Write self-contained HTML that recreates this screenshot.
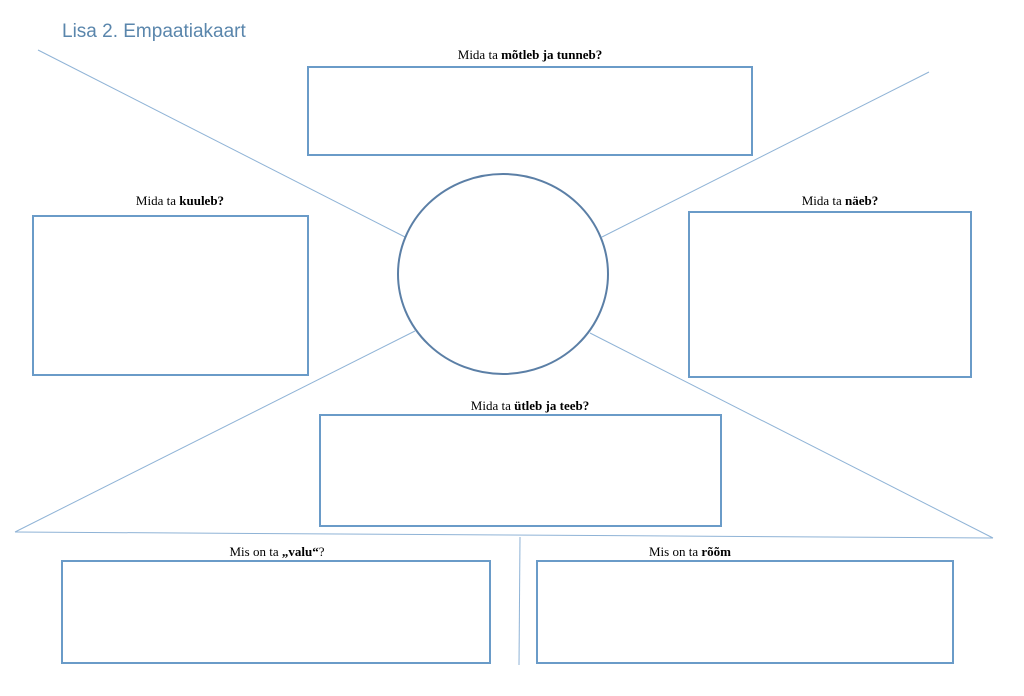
<!DOCTYPE html>
<html><head><meta charset="utf-8"><style>
body{margin:0;background:#fff;}
svg{display:block}
text{font-family:"Liberation Serif",serif;font-size:13px;fill:#000}
</style></head><body>
<svg width="1024" height="696" viewBox="0 0 1024 696" xmlns="http://www.w3.org/2000/svg">
<text x="62" y="37" style="font-family:'Liberation Sans',sans-serif;font-size:19px;fill:#5a86ac">Lisa 2. Empaatiakaart</text>
<g stroke="#8fb3d6" stroke-width="1" fill="none">
<line x1="38" y1="50" x2="405" y2="237"/>
<line x1="929" y1="72" x2="602" y2="237"/>
<line x1="415" y1="331" x2="15" y2="532"/>
<line x1="590" y1="333" x2="993" y2="538"/>
<line x1="15" y1="532" x2="993" y2="538"/>
<line x1="520" y1="537" x2="519" y2="665"/>
</g>
<ellipse cx="503" cy="274" rx="105" ry="100" fill="none" stroke="#5b7fa6" stroke-width="2"/>
<g stroke="#6a9bc8" stroke-width="2" fill="none">
<rect x="308" y="67" width="444" height="88"/>
<rect x="33" y="216" width="275" height="159"/>
<rect x="689" y="212" width="282" height="165"/>
<rect x="320" y="415" width="401" height="111"/>
<rect x="62" y="561" width="428" height="102"/>
<rect x="537" y="561" width="416" height="102"/>
</g>
<text x="530" y="59" text-anchor="middle">Mida ta <tspan font-weight="bold">mõtleb ja tunneb?</tspan></text>
<text x="180" y="205" text-anchor="middle">Mida ta <tspan font-weight="bold">kuuleb?</tspan></text>
<text x="840" y="205" text-anchor="middle">Mida ta <tspan font-weight="bold">näeb?</tspan></text>
<text x="530" y="410" text-anchor="middle">Mida ta <tspan font-weight="bold">ütleb ja teeb?</tspan></text>
<text x="277" y="556" text-anchor="middle">Mis on ta <tspan font-weight="bold">„valu“</tspan>?</text>
<text x="690" y="556" text-anchor="middle">Mis on ta <tspan font-weight="bold">rõõm</tspan></text>
</svg>
</body></html>
